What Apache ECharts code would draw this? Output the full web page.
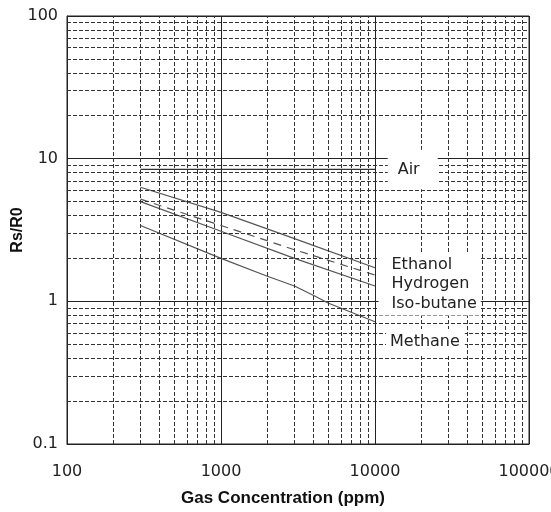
<!DOCTYPE html>
<html><head><meta charset="utf-8">
<script src="https://cdn.jsdelivr.net/npm/echarts@6/dist/echarts.min.js"></script>
<style>html,body{margin:0;padding:0;background:#fff}#c{width:551px;height:512px}</style>
</head><body><div id="c"></div>
<script>
const xTickLabels = ['100', '1000', '10000', '100000'];
const yTickLabels = ['0.1', '1', '10', '100'];
const concentration = [300, 1000, 3000, 10000];
const ethanol = [6.3, 4.2, 2.75, 1.72];
const hydrogen = [5.2, 3.4, 2.3, 1.53];
const isoButane = [5.0, 3.1, 2.0, 1.28];
const methaneX = [300, 1000, 2000, 3000, 4000, 5000, 10000];
const methane = [3.4, 2.0, 1.5, 1.28, 1.1, 0.97, 0.72];
const airX = [300, 10000];
const air = [8.4, 8.4];
const gasLabels = ['Air', 'Ethanol\nHydrogen\nIso-butane', 'Methane'];
const labelAnchorX = [12000, 10460, 11700];
const labelAnchorY = [8.4, 1.32, 0.52];

const font = '"DejaVu Sans", sans-serif';
const titleFont = '"Liberation Sans", Arial, sans-serif';
const pair = (xs, ys) => xs.map((x, i) => [x, ys[i]]);

const minorX = [], minorY = [];
[100, 1000, 10000].forEach(d => { for (let k = 2; k <= 9; k++) minorX.push(d * k); });
[0.1, 1, 10].forEach(d => { for (let k = 2; k <= 9; k++) minorY.push(+(d * k).toPrecision(3)); });
const minorStyle = { color: '#333', width: 1, type: [4, 2] };
const pads = [[10, 18, 10, 10], [2, 4, 2, 13], [3, 5, 3, 4]];

const lineCol = '#555';
const chart = echarts.init(document.getElementById('c'), null, { renderer: 'canvas' });
chart.setOption({
  animation: false,
  grid: { left: 67, right: 22, top: 16, bottom: 68, show: true, borderColor: '#222', borderWidth: 1, outerBoundsMode: 'none', containLabel: false },
  xAxis: {
    type: 'log', logBase: 10, min: 100, max: 100000,
    name: 'Gas Concentration (ppm)', nameLocation: 'middle', nameGap: 46, nameMoveOverlap: false,
    nameTextStyle: { fontFamily: titleFont, fontSize: 17, fontWeight: 'bold', color: '#111', padding: [0, 30, 0, 0] },
    axisLine: { show: true, lineStyle: { color: '#222' } },
    axisTick: { show: false },
    axisLabel: { margin: 20, fontFamily: font, fontSize: 16, color: '#222', hideOverlap: false, formatter: v => xTickLabels[Math.round(Math.log10(v)) - 2] },
    splitLine: { show: true, lineStyle: { color: '#222', width: 1 } }
  },
  yAxis: {
    type: 'log', logBase: 10, min: 0.1, max: 100,
    name: 'Rs/R0', nameLocation: 'middle', nameGap: 41, nameRotate: 90, nameMoveOverlap: false,
    nameTextStyle: { fontFamily: titleFont, fontSize: 16, fontWeight: 'bold', color: '#111' },
    axisLine: { show: true, lineStyle: { color: '#222' } },
    axisTick: { show: false },
    axisLabel: { margin: 9, fontFamily: font, fontSize: 16, color: '#222', padding: [2, 0, 0, 0], formatter: v => yTickLabels[Math.round(Math.log10(v)) + 1] },
    splitLine: { show: true, lineStyle: { color: '#222', width: 1 } }
  },
  series: [
    {
      type: 'line', data: [], z: 1, silent: true,
      markLine: {
        silent: true, symbol: 'none', label: { show: false }, animation: false,
        lineStyle: minorStyle,
        data: minorX.map(v => ({ xAxis: v })).concat(minorY.map(v => ({ yAxis: v })))
      }
    },
    { name: 'Air', type: 'line', data: pair(airX, air), symbol: 'none', z: 3, lineStyle: { color: '#333', width: 1.3 } },
    { name: 'Ethanol', type: 'line', data: pair(concentration, ethanol), symbol: 'none', z: 3, lineStyle: { color: lineCol, width: 1.2 } },
    { name: 'Hydrogen', type: 'line', data: pair(concentration, hydrogen), symbol: 'none', z: 3, lineStyle: { color: lineCol, width: 1.2, type: [8, 6] } },
    { name: 'Iso-butane', type: 'line', data: pair(concentration, isoButane), symbol: 'none', z: 3, lineStyle: { color: lineCol, width: 1.2 } },
    { name: 'Methane', type: 'line', data: pair(methaneX, methane), symbol: 'none', z: 3, lineStyle: { color: lineCol, width: 1.2 } },
    {
      type: 'scatter', z: 10, silent: true, symbolSize: 1, itemStyle: { opacity: 0 },
      data: gasLabels.map((t, i) => ({
        value: [labelAnchorX[i], labelAnchorY[i]], name: t,
        label: { padding: pads[i] }
      })),
      label: {
        show: true, position: 'right', distance: 0, formatter: p => p.name,
        fontFamily: font, fontSize: 16, color: '#222', lineHeight: 19.5, opacity: 1,
        backgroundColor: '#fff'
      }
    }
  ]
});
</script></body></html>
